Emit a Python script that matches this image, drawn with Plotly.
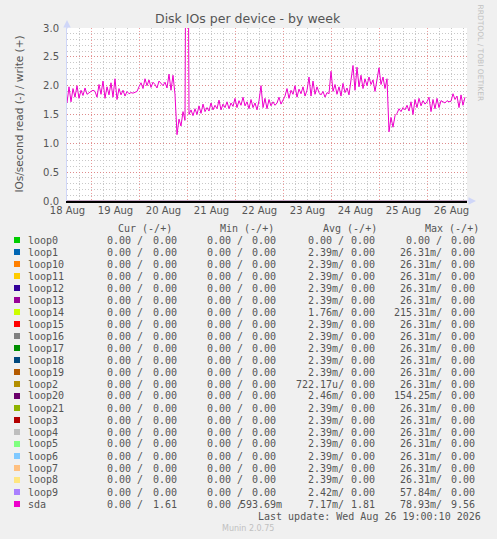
import pandas as pd
import plotly.graph_objects as go

# hourly write IOs of sda (starts 18 Aug 11:45)
sda_write = [
    1.70, 1.98, 1.72, 1.95, 1.80, 2.00, 1.78, 1.92, 1.83, 1.96, 1.85, 1.88,
    1.90, 1.92, 1.90,
    1.80, 2.02, 1.85, 2.08, 1.78, 1.98, 1.84, 2.05,
    1.80, 2.12, 1.76, 1.95,
    1.84, 1.92, 1.82, 1.90, 1.86,
    1.88, 1.87, 1.89, 1.90,
    1.98, 2.05,
    1.95, 2.12, 2.00, 2.10, 1.97, 2.06, 2.02, 1.96, 2.08, 2.03, 2.00, 2.06, 1.96, 2.20, 1.92, 2.18,
    1.85, 1.15, 1.42, 1.30, 1.55, 1.40, 9.56, 1.50, 1.58, 1.48,
    1.60, 1.50, 1.65, 1.52, 1.68, 1.55, 1.62, 1.56, 1.70, 1.58, 1.66, 1.60, 1.75, 1.58, 1.68, 1.62,
    1.72, 1.60, 1.70,
    1.64, 1.78, 1.62, 1.74, 1.66, 1.80, 1.65, 1.72, 1.60, 1.76, 1.62, 1.70, 1.58, 1.74, 2.00, 1.62,
    1.78, 1.60, 1.76, 1.65, 1.72, 1.66,
    1.70, 1.80, 1.68, 1.76,
    1.82, 1.95, 1.78, 1.92, 1.85, 2.00, 1.80, 1.94, 1.86, 1.98, 1.82, 1.92,
    2.15,
    1.82, 2.08, 1.85, 1.98, 1.88,
    1.84, 1.90, 1.80, 1.88, 1.86,
    2.25, 1.90,
    2.02, 1.85, 1.98, 1.82, 2.04, 1.88, 1.96, 1.84,
    2.10, 2.35, 1.92, 2.32, 1.98,
    2.18, 1.95, 2.12, 2.00,
    2.15, 2.02, 2.10, 1.90, 2.12,
    2.31, 2.02, 2.15, 1.95, 2.12,
    1.20, 1.45, 1.28, 1.48,
    1.52, 1.60, 1.55,
    1.62, 1.58, 1.66, 1.56, 1.72, 1.50, 1.76, 1.62,
    1.78, 1.65, 1.74, 1.68, 1.72,
    1.80, 1.55, 1.76, 1.60, 1.78,
    1.62, 1.74,
    1.72, 1.70, 1.74, 1.72, 1.73,
    1.86, 1.76,
    1.82, 1.62, 1.84, 1.66, 1.80,
]
zero_level = [0.0, 0.0]

day_labels = ["18 Aug", "19 Aug", "20 Aug", "21 Aug", "22 Aug", "23 Aug", "24 Aug", "25 Aug", "26 Aug"]
y_ticks = [0.0, 0.5, 1.0, 1.5, 2.0, 2.5, 3.0]

names = ["loop0", "loop1", "loop10", "loop11", "loop12", "loop13", "loop14", "loop15",
         "loop16", "loop17", "loop18", "loop19", "loop2", "loop20", "loop21", "loop3",
         "loop4", "loop5", "loop6", "loop7", "loop8", "loop9", "sda"]
colors = ["#00CC00", "#0066B3", "#FF8000", "#FFCC00", "#330099", "#990099", "#CCFF00", "#FF0000",
          "#808080", "#008F00", "#00487D", "#B35A00", "#B38F00", "#6B006B", "#8FB300", "#B30000",
          "#BEBEBE", "#80FF80", "#80C9FF", "#FFC080", "#FFE680", "#AA80FF", "#EE00CC"]

cur_read = ["0.00"] * 23
cur_write = ["0.00"] * 22 + ["1.61"]
min_read = ["0.00"] * 23
min_write = ["0.00"] * 22 + ["593.69m"]
avg_read = ["0.00", "2.39m", "2.39m", "2.39m", "2.39m", "2.39m", "1.76m", "2.39m",
            "2.39m", "2.39m", "2.39m", "2.39m", "722.17u", "2.46m", "2.39m", "2.39m",
            "2.39m", "2.39m", "2.39m", "2.39m", "2.39m", "2.42m", "7.17m"]
avg_write = ["0.00"] * 22 + ["1.81"]
max_read = ["0.00", "26.31m", "26.31m", "26.31m", "26.31m", "26.31m", "215.31m", "26.31m",
            "26.31m", "26.31m", "26.31m", "26.31m", "26.31m", "154.25m", "26.31m", "26.31m",
            "26.31m", "26.31m", "26.31m", "26.31m", "26.31m", "57.84m", "78.93m"]
max_write = ["0.00"] * 22 + ["9.56"]

W, H = 497, 539
L, R, T, B = 67, 467, 28, 201
NB = "\u00a0"
GREY = "#555555"
MONO = "DejaVu Sans Mono"
SANS = "DejaVu Sans"


def px(x):
    return (x - L) / (R - L)


def py(y):
    return (B - y) / (B - T)


def sfx(v):
    return v + NB if v[-1].isdigit() else v


start = pd.Timestamp("2026-08-18 11:45")
end = start + pd.Timedelta(hours=200)
times = pd.date_range(start, periods=len(sda_write), freq="h")
noons = pd.date_range("2026-08-18 12:00", periods=len(day_labels), freq="D")

fig = go.Figure()

for name, color in zip(names[:-1], colors[:-1]):
    fig.add_trace(go.Scatter(x=[start, end], y=zero_level, mode="lines", xaxis="x2",
                             line=dict(color=color, width=1), hoverinfo="skip", showlegend=False))

fig.add_trace(go.Scatter(x=[start, end], y=zero_level, mode="lines",
                         line=dict(color=colors[-1], width=2, dash="1px,2px"),
                         hoverinfo="skip", showlegend=False))
fig.add_trace(go.Scatter(x=times, y=sda_write, mode="lines", name="sda",
                         line=dict(color=colors[-1], width=1), showlegend=False))

grid_major = "rgba(230,120,120,0.75)"
grid_minor = "#c8c8c8"

fig.update_layout(
    width=W, height=H,
    margin=dict(l=L, r=W - R, t=T, b=H - B),
    paper_bgcolor="#F0F0F0", plot_bgcolor="#FFFFFF",
    showlegend=False,
    xaxis=dict(
        type="date", range=[start, end],
        tick0="2026-08-19 00:00", dtick=86400000,
        showticklabels=False, ticks="",
        showgrid=True, gridcolor=grid_major, griddash="1px,2px", gridwidth=1,
        minor=dict(dtick=6 * 3600000, tick0="2026-08-19 00:00", showgrid=True,
                   gridcolor=grid_minor, griddash="1px,2px", ticks=""),
        showline=True, linecolor="#000000", linewidth=1.5, layer="below traces",
        zeroline=False,
    ),
    xaxis2=dict(
        type="date", range=[start, end], overlaying="x", anchor="y", side="bottom",
        tickmode="array", tickvals=list(noons), ticktext=day_labels,
        showgrid=False, showline=False, zeroline=False, ticks="",
        tickfont=dict(family=SANS, size=10, color=GREY), ticklabelstandoff=2,
    ),
    yaxis=dict(
        range=[0, 3.0], tickmode="array", tickvals=y_ticks, tickformat=".1f",
        showgrid=True, gridcolor=grid_major, griddash="1px,2px",
        minor=dict(dtick=0.1, showgrid=True, gridcolor=grid_minor, griddash="1px,2px", ticks=""),
        showline=True, linecolor="#CFD6F8", linewidth=1, zeroline=False, ticks="",
        tickfont=dict(family=SANS, size=10, color=GREY), ticklabelstandoff=5,
    ),
)

ann = []
ann.append(dict(x=px(248), y=py(19), text="Disk IOs per device - by week",
                font=dict(family=SANS, size=12.5, color=GREY)))
ann.append(dict(x=px(10), y=py(114.5), text="IOs/second read (-) / write (+)", textangle=-90,
                font=dict(family=SANS, size=10.5, color=GREY)))
ann.append(dict(x=px(487), y=py(53), text="RRDTOOL / TOBI OETIKER", textangle=90,
                font=dict(family=SANS, size=7.5, color="#C0C0C0")))
ann.append(dict(x=px(248), y=py(528), text="Munin 2.0.75",
                font=dict(family=SANS, size=8, color="#C0C0C0")))
ann.append(dict(x=px(483), y=py(516), text="Last update: Wed Aug 26 19:00:10 2026", xanchor="right",
                font=dict(family=MONO, size=10, color=GREY)))

for head, x0 in zip(["Cur (-/+)", "Min (-/+)", "Avg (-/+)", "Max (-/+)"], [116, 218, 321, 423]):
    ann.append(dict(x=px(x0), y=py(228), text=head.replace(" ", NB), xanchor="left",
                    font=dict(family=MONO, size=10, color=GREY)))

cols = [(cur_read, cur_write, 145, 185), (min_read, min_write, 245, 284),
        (avg_read, avg_write, 346, 383), (max_read, max_write, 444, 483)]

shapes = []
for i, (name, color) in enumerate(zip(names, colors)):
    row = 240 + 12 * i
    shapes.append(dict(type="rect", xref="paper", yref="paper",
                       x0=px(14), x1=px(20), y0=py(row + 3), y1=py(row - 3),
                       fillcolor=color, line=dict(width=0)))
    ann.append(dict(x=px(26), y=py(row), text=name, xanchor="left",
                    font=dict(family=MONO, size=10, color=GREY)))
    for rd, wr, slash_end, write_end in cols:
        ann.append(dict(x=px(slash_end), y=py(row), text=sfx(rd[i]) + "/", xanchor="right",
                        font=dict(family=MONO, size=10, color=GREY)))
        ann.append(dict(x=px(write_end), y=py(row), text=sfx(wr[i]), xanchor="right",
                        font=dict(family=MONO, size=10, color=GREY)))

for a in ann:
    a.setdefault("xref", "paper")
    a.setdefault("yref", "paper")
    a.setdefault("showarrow", False)
    a.setdefault("yanchor", "middle")

# axis arrows
ann.append(dict(x=px(67), y=py(20), xref="paper", yref="paper", text="", showarrow=True,
                ax=0, ay=10, arrowhead=2, arrowsize=1, arrowwidth=1.5, arrowcolor="#CFD6F8"))
ann.append(dict(x=px(476), y=py(201), xref="paper", yref="paper", text="", showarrow=True,
                ax=-10, ay=0, arrowhead=2, arrowsize=1, arrowwidth=1.5, arrowcolor="#CFD6F8"))

fig.update_layout(annotations=ann, shapes=shapes)

# page body has a default 8px margin, drop it so the figure sits at the top-left corner
fig.write_html("out.html", config={"displayModeBar": False},
               post_script="document.body.style.margin='0';")
